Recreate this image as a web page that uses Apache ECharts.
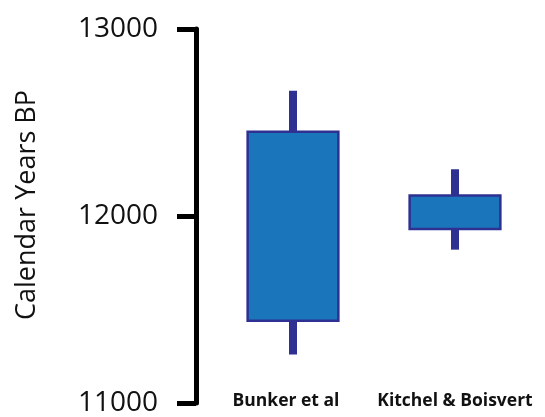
<!DOCTYPE html>
<html>
<head>
<meta charset="utf-8">
<script src="https://cdn.jsdelivr.net/npm/echarts@6/dist/echarts.min.js"></script>
<style>
  html, body { margin: 0; padding: 0; background: #fff; }
  #chart { width: 545px; height: 417px; }
</style>
</head>
<body>
<div id="chart"></div>
<script>
// categories + ranges
const categories = ['Bunker et al', 'Kitchel & Boisvert'];
const whiskerLow = [11260, 11820];
const boxLow = [11440, 11930];
const boxHigh = [12450, 12110];
const whiskerHigh = [12670, 12250];
const yTicks = [11000, 12000, 13000];

const chart = echarts.init(document.getElementById('chart'));

const seriesData = categories.map((c, i) => [i, whiskerLow[i], boxLow[i], boxHigh[i], whiskerHigh[i]]);

const option = {
  animation: false,
  grid: { left: 212, right: 9, top: 29, bottom: 9 },
  xAxis: {
    type: 'category',
    data: categories,
    axisLine: { show: false },
    axisTick: { show: false },
    axisLabel: {
      interval: 0,
      margin: -11,
      color: '#111',
      fontFamily: 'Open Sans',
      fontWeight: 'bold',
      fontSize: 17.5,
      // first label sits a little left of its box in the original
      formatter: (v, i) => (i === 0 ? '{l|' + v + '}' : v),
      rich: {
        l: {
          fontFamily: 'Open Sans',
          fontWeight: 'bold',
          fontSize: 17.5,
          color: '#111',
          padding: [0, 14, 0, 0],
        },
      },
    },
  },
  yAxis: {
    type: 'value',
    min: yTicks[0],
    max: yTicks[yTicks.length - 1],
    interval: 1000,
    offset: 16,
    name: 'Calendar Years BP',
    nameLocation: 'middle',
    nameGap: 155,
    nameTextStyle: { fontFamily: 'Open Sans', fontSize: 27, color: '#111', padding: [0, 0, 0, 22] },
    splitLine: { show: false },
    axisLine: { show: true, lineStyle: { color: '#000', width: 5 } },
    axisTick: { show: true, length: 19, lineStyle: { color: '#000', width: 5 } },
    axisLabel: {
      margin: 38,
      color: '#111',
      fontFamily: 'Open Sans',
      fontSize: 28,
      formatter: (v) => String(v),
    },
  },
  series: [
    {
      type: 'custom',
      data: seriesData,
      encode: { x: 0, y: [1, 2, 3, 4] },
      renderItem: (params, api) => {
        const i = api.value(0);
        const lo = api.coord([i, api.value(1)]);
        const b0 = api.coord([i, api.value(2)]);
        const b1 = api.coord([i, api.value(3)]);
        const hi = api.coord([i, api.value(4)]);
        const bw = api.size([1, 0])[0] * 0.56;
        const ww = 8;
        return {
          type: 'group',
          children: [
            {
              type: 'rect',
              shape: { x: lo[0] - ww / 2, y: hi[1], width: ww, height: lo[1] - hi[1] },
              style: { fill: '#2e3192' },
            },
            {
              type: 'rect',
              shape: { x: b0[0] - bw / 2, y: b1[1], width: bw, height: b0[1] - b1[1] },
              style: { fill: '#1b75bb', stroke: '#2e3192', lineWidth: 2.5 },
            },
          ],
        };
      },
    },
  ],
};

chart.setOption(option);
window.addEventListener('resize', () => chart.resize());
</script>
</body>
</html>
